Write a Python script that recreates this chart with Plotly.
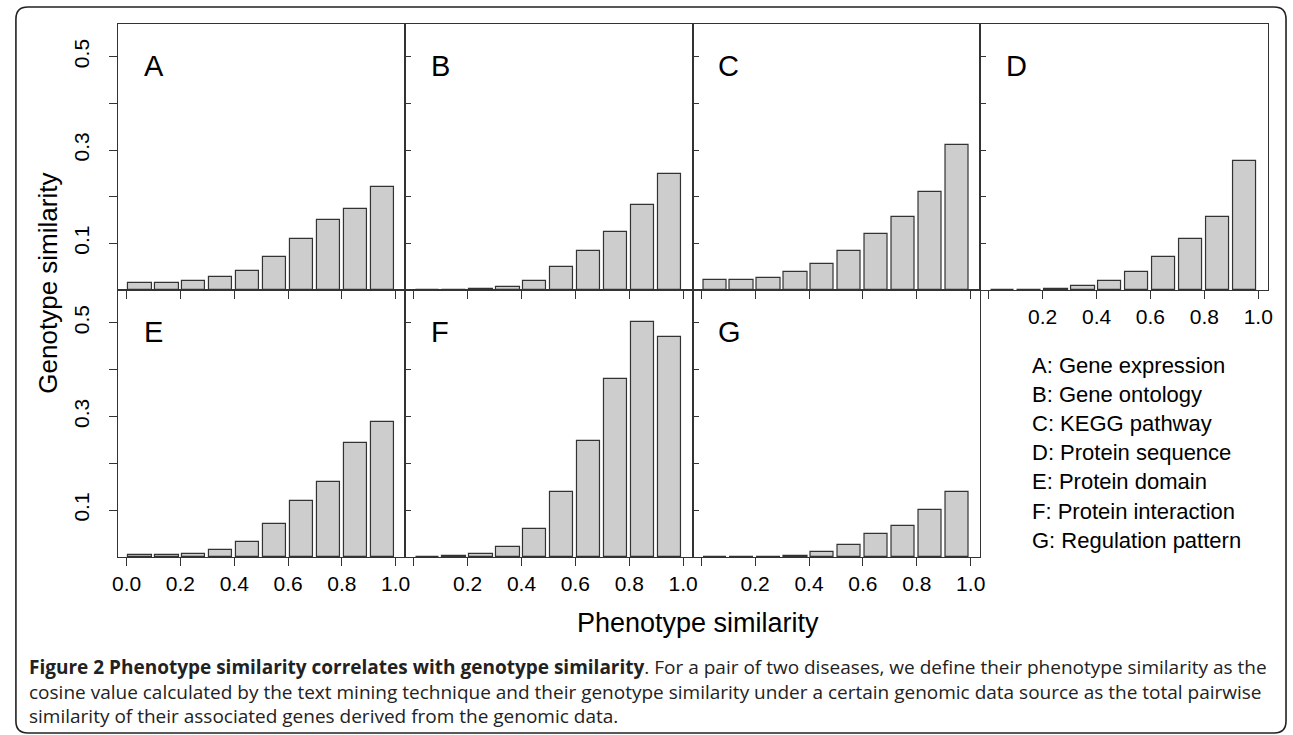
import plotly.graph_objects as go

W, H = 1293, 735

# ---------------- data ----------------
bin_centers = [0.05, 0.15, 0.25, 0.35, 0.45, 0.55, 0.65, 0.75, 0.85, 0.95]
panel_letters = ["A", "B", "C", "D", "E", "F", "G"]
vals_A = [0.014, 0.016, 0.019, 0.027, 0.041, 0.071, 0.110, 0.149, 0.173, 0.220]
vals_B = [0.0, 0.0, 0.0015, 0.007, 0.020, 0.049, 0.084, 0.125, 0.183, 0.248]
vals_C = [0.021, 0.021, 0.026, 0.038, 0.056, 0.084, 0.121, 0.157, 0.211, 0.311]
vals_D = [0.0, 0.0003, 0.002, 0.008, 0.019, 0.039, 0.071, 0.109, 0.156, 0.277]
vals_E = [0.0036, 0.0036, 0.0064, 0.015, 0.032, 0.071, 0.119, 0.160, 0.243, 0.289]
vals_F = [0.0007, 0.0014, 0.0057, 0.021, 0.059, 0.138, 0.247, 0.381, 0.502, 0.469]
vals_G = [0.0, 0.0, 0.0, 0.002, 0.010, 0.026, 0.049, 0.066, 0.100, 0.139]
series = [vals_A, vals_B, vals_C, vals_D, vals_E, vals_F, vals_G]

legend_lines = [
    "A: Gene expression",
    "B: Gene ontology",
    "C: KEGG pathway",
    "D: Protein sequence",
    "E: Protein domain",
    "F: Protein interaction",
    "G: Regulation pattern",
]
x_tick_vals = [0.0, 0.2, 0.4, 0.6, 0.8, 1.0]
x_tick_text_full = ["0.0", "0.2", "0.4", "0.6", "0.8", "1.0"]
x_tick_text_skip0 = ["", "0.2", "0.4", "0.6", "0.8", "1.0"]
y_tick_vals = [0.1, 0.2, 0.3, 0.4, 0.5]
y_tick_text = ["0.1", "", "0.3", "", "0.5"]
x_title = "Phenotype similarity"
y_title = "Genotype similarity"
caption_lines = [
    "<b>Figure 2 Phenotype similarity correlates with genotype similarity</b>. For a pair of two diseases, we define their phenotype similarity as the",
    "cosine value calculated by the text mining technique and their genotype similarity under a certain genomic data source as the total pairwise",
    "similarity of their associated genes derived from the genomic data.",
]

# ---------------- layout geometry (pixels) ----------------
col_edges = [113, 402.5, 692.5, 982.5, 1272.5]
row_edges = [24, 290, 557]
panel_pos = [(0, 0), (0, 1), (0, 2), (0, 3), (1, 0), (1, 1), (1, 2)]

FONT = "Liberation Sans, Arial, Helvetica, sans-serif"
LINE = "#333333"


def px(x):
    return x / W


def py(y):
    return 1 - y / H


fig = go.Figure()
layout = dict(
    width=W, height=H,
    margin=dict(l=0, r=0, t=0, b=0),
    paper_bgcolor="white", plot_bgcolor="white",
    showlegend=False,
    bargap=0,
    font=dict(family=FONT, color="black", size=20),
)
annotations = []

for i, (vals, (r, c)) in enumerate(zip(series, panel_pos)):
    n = i + 1
    xa = "xaxis" if n == 1 else f"xaxis{n}"
    ya = "yaxis" if n == 1 else f"yaxis{n}"
    xr = "x" if n == 1 else f"x{n}"
    yr = "y" if n == 1 else f"y{n}"
    fig.add_trace(go.Bar(
        x=bin_centers, y=vals, width=0.086,
        marker=dict(color="#cdcdcd", line=dict(color=LINE, width=1.2)),
        xaxis=xr, yaxis=yr, hoverinfo="skip",
    ))
    x0, x1 = col_edges[c], col_edges[c + 1]
    y0, y1 = row_edges[r], row_edges[r + 1]
    bottom_labels = (r == 1) or (c == 3)
    xtext = x_tick_text_full if (c == 0 and r == 1) else x_tick_text_skip0
    layout[xa] = dict(
        domain=[px(x0), px(x1)], anchor=yr, range=[-0.032, 1.035],
        showgrid=False, zeroline=False, showline=True, mirror=True,
        linecolor=LINE, linewidth=1.3,
        ticks="outside", ticklen=8, tickwidth=1.2, tickcolor=LINE,
        tickvals=x_tick_vals, ticktext=xtext,
        showticklabels=bottom_labels,
        tickfont=dict(size=21, family=FONT, color="black"),
        fixedrange=True,
    )
    ydict = dict(
        domain=[py(y1), py(y0)], anchor=xr, range=[0, 0.57],
        showgrid=False, zeroline=False, showline=True, mirror=True,
        linecolor=LINE, linewidth=1.3,
        tickvals=y_tick_vals, ticktext=y_tick_text,
        tickwidth=1.2, tickcolor=LINE, fixedrange=True,
    )
    if c == 0:
        ydict.update(ticks="outside", ticklen=8, showticklabels=True,
                     tickangle=-90, ticklabelstandoff=11,
                     tickfont=dict(size=21, family=FONT, color="black"))
    else:
        ydict.update(ticks="inside", ticklen=6, showticklabels=False)
    layout[ya] = ydict
    annotations.append(dict(
        text=panel_letters[i], xref=f"{xr} domain", yref=f"{yr} domain",
        x=24 / (x1 - x0), y=1 - 42 / (y1 - y0), xanchor="left", yanchor="middle",
        showarrow=False, font=dict(size=29, family=FONT, color="black"),
    ))

# legend text block
for k, t in enumerate(legend_lines):
    annotations.append(dict(
        text=t, xref="paper", yref="paper", x=px(1033), y=py(365 + k * 29.2),
        xanchor="left", yanchor="middle", showarrow=False,
        font=dict(size=22, family=FONT, color="black"),
    ))

# axis titles
annotations.append(dict(
    text=x_title, xref="paper", yref="paper", x=px(698), y=py(623),
    xanchor="center", yanchor="middle", showarrow=False,
    font=dict(size=27, family=FONT, color="black"),
))
annotations.append(dict(
    text=y_title, xref="paper", yref="paper", x=px(42), y=py(283),
    xanchor="center", yanchor="middle", showarrow=False, textangle=-90,
    font=dict(size=26, family=FONT, color="black"),
))

# caption
for k, t in enumerate(caption_lines):
    annotations.append(dict(
        text=t, xref="paper", yref="paper", x=px(21), y=py(667 + k * 24.5),
        xanchor="left", yanchor="middle", showarrow=False,
        font=dict(size=19, family="Open Sans, sans-serif", color="#222222"),
    ))

layout["annotations"] = annotations

# rounded outer frame
bx0, by0, bx1, by1, rad = 10, 7, 1291, 733, 12
rx, ry = rad / W, rad / H
X0, X1 = px(bx0), px(bx1)
Y0, Y1 = py(by0), py(by1)  # Y0 top, Y1 bottom (paper)
path = (
    f"M {X0 + rx},{Y0} L {X1 - rx},{Y0} Q {X1},{Y0} {X1},{Y0 - ry} "
    f"L {X1},{Y1 + ry} Q {X1},{Y1} {X1 - rx},{Y1} "
    f"L {X0 + rx},{Y1} Q {X0},{Y1} {X0},{Y1 + ry} "
    f"L {X0},{Y0 - ry} Q {X0},{Y0} {X0 + rx},{Y0} Z"
)
layout["shapes"] = [dict(type="path", xref="paper", yref="paper", path=path,
                         line=dict(color="#222222", width=1.6), layer="above")]

fig.update_layout(**layout)
fig.write_html(
    "out.html",
    config={"displayModeBar": False},
    post_script="document.body.style.margin='0px';document.body.style.overflow='hidden';",
)
